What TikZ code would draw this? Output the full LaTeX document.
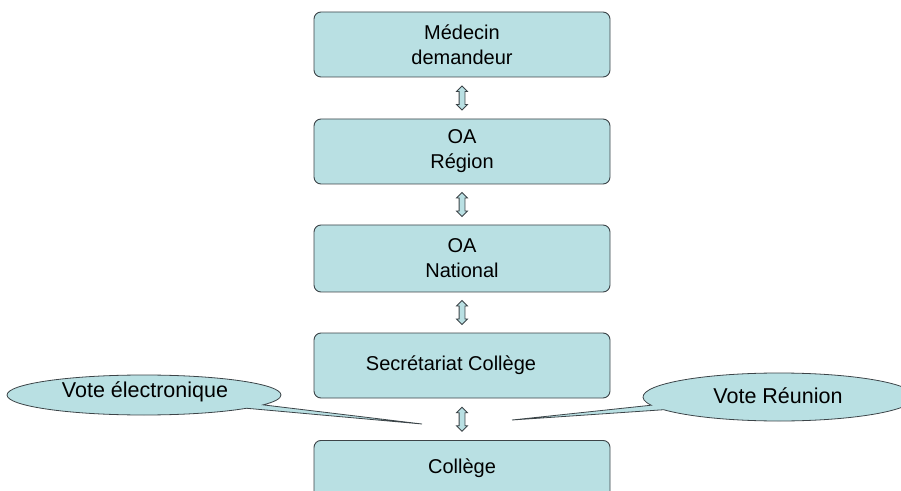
\documentclass[tikz,border=0pt]{standalone}
\usepackage{fontspec}
\setmainfont{Liberation Sans}
\usetikzlibrary{shapes.callouts,calc}
\definecolor{boxfill}{HTML}{B9E0E3}
\definecolor{boxline}{HTML}{3C4448}
\tikzset{
  stepbox/.style={draw=boxline, line width=0.9pt, fill=boxfill, rounded corners=7pt,
    minimum width=296pt, align=center, inner sep=0pt,
    font=\fontsize{20}{25}\selectfont},
  linkarrow/.style={draw=boxline, line width=0.8pt, fill=boxfill, line join=miter},
  bubble/.style={ellipse callout, draw=boxline, line width=0.8pt, fill=boxfill,
    inner sep=0pt, callout pointer arc=12},
  bubbletext/.style={font=\fontsize{21.5}{24}\selectfont}
}
% hollow two-headed vertical arrow centred on a named point
\newcommand{\linkarrowat}[1]{%
  \draw[linkarrow] (#1) ++(0,12) -- ++(-5.5,-5.5) -- ++(2.6,0) -- ++(0,-13)
    -- ++(-2.6,0) -- ++(5.5,-5.5) -- ++(5.5,5.5) -- ++(-2.6,0) -- ++(0,13)
    -- ++(2.6,0) -- cycle;}
\begin{document}
\begin{tikzpicture}[x=1pt,y=1pt]
\useasboundingbox (0,0) rectangle (901,490);
\clip (0,0) rectangle (901,490);

% chain of boxes
\node[stepbox, minimum height=65pt] (med) at (462,445.5) {Médecin\\demandeur};
\node[stepbox, minimum height=65pt] (reg) at (462,338.5) {OA\\Région};
\node[stepbox, minimum height=67pt] (nat) at (462,231.5) {OA\\National};
\node[stepbox, minimum height=65pt] (sec) at (462,124.5) {};
\node[font=\fontsize{20}{25}\selectfont] (sect) at (451,124.5) {Secrétariat Collège};
\node[stepbox, minimum height=66pt, anchor=north] (col) at (462,50) {};
\node[font=\fontsize{20}{25}\selectfont] (colt) at (462,22) {Collège};

% two-way links between the boxes
\coordinate (a1) at ($(med.south)!0.5!(reg.north)$);
\coordinate (a2) at ($(reg.south)!0.5!(nat.north)$);
\coordinate (a3) at ($(nat.south)!0.5!(sec.north)$);
\coordinate (a4) at ($(sec.south)!0.5!(col.north)$);
\linkarrowat{a1}
\linkarrowat{a2}
\linkarrowat{a3}
\linkarrowat{a4}

% voting callouts
\coordinate (tipl) at (422,66);
\coordinate (tipr) at (512,70);
\node[bubble, minimum width=274pt, minimum height=40pt,
  callout absolute pointer={(tipl)}] (ve) at (144,95) {};
\node[bubbletext] (vet) at (145,98) {Vote électronique};
\node[bubble, minimum width=272pt, minimum height=48pt,
  callout absolute pointer={(tipr)}] (vr) at (779,93) {};
\node[bubbletext] (vrt) at (778,94) {Vote Réunion};
\end{tikzpicture}
\end{document}
